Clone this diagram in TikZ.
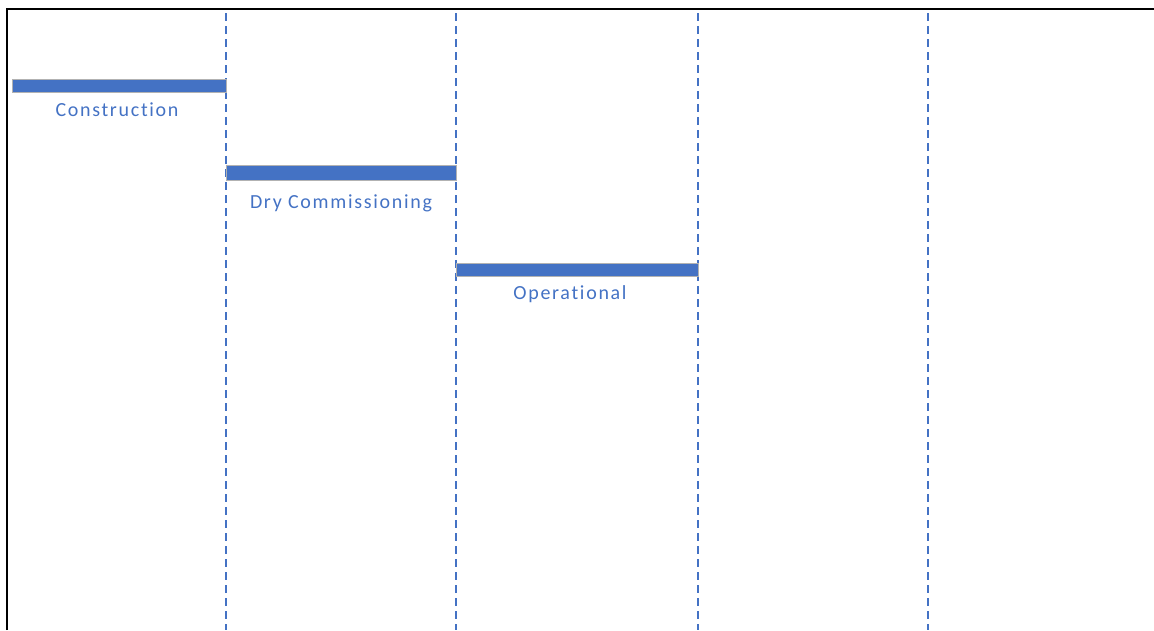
\documentclass[tikz,border=0pt]{standalone}
\usepackage{fontspec}
\setmainfont{Carlito}[Ligatures=NoCommon]
\definecolor{barblue}{HTML}{4472C4}
\begin{document}
\begin{tikzpicture}[x=1pt, y=-1pt,
  phase/.style={fill=barblue, draw=black!30, line width=0.4pt},
  gridline/.style={barblue, line width=1.1pt, dash pattern=on 8pt off 5pt},
  lbl/.style={text=barblue, inner sep=0pt, font=\fontsize{20}{24}\selectfont\addfontfeature{LetterSpace=8.5}}]
\useasboundingbox (0,0) rectangle (1154,630);
% frame
\draw[line width=2pt] (7,630) -- (7,9) -- (1154,9);
% milestones
\foreach \x in {226,456,698,928}
  \draw[gridline] (\x,13) -- (\x,630);
% phases
\draw[phase] (12,79) rectangle (226,92);
\node[lbl] (construction) at (117,110) {Construction};
\draw[phase] (226,165) rectangle (456,180);
\node[lbl] (drycomm) at (341,203) {Dry Commissioning};
\draw[phase] (456,263) rectangle (698,276);
\node[lbl] (operational) at (570,294) {Operational};
\end{tikzpicture}
\end{document}
